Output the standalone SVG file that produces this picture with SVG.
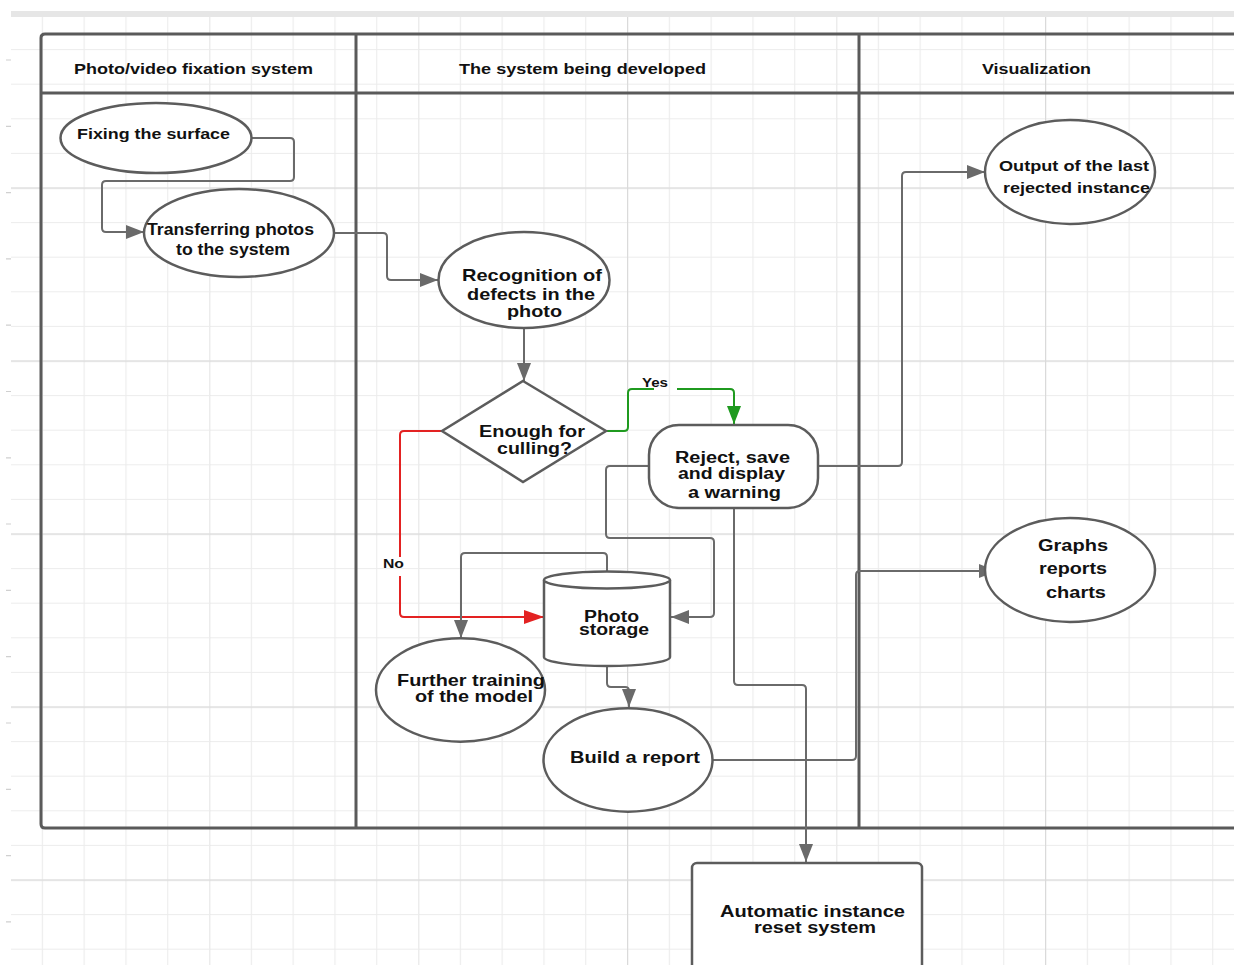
<svg xmlns="http://www.w3.org/2000/svg" width="1234" height="965" viewBox="0 0 1234 965">
<style>
.lane{fill:none;stroke:#5a5a5a;stroke-width:3}
.node{fill:#fff;stroke:#5c5c5c;stroke-width:2.5}
.conn{fill:none;stroke:#6a6a6a;stroke-width:2}
.green{fill:none;stroke:#1f9a1f;stroke-width:2}
.red{fill:none;stroke:#e32222;stroke-width:2}
text{font-family:"Liberation Sans",Arial,sans-serif;font-weight:bold;fill:#111}
.h{font-size:15px}
.t15{font-size:15px}
.t16{font-size:16px}
.t17{font-size:17px}
.lbl{font-size:13px}
</style>
<defs>
<pattern id="minor" patternUnits="userSpaceOnUse" x="0" y="14.5" width="41.8" height="34.6">
<path d="M0.5,0 V34.6 M0,0.5 H41.8" stroke="#ececec" stroke-width="1.2" fill="none"/>
</pattern>
<pattern id="major" patternUnits="userSpaceOnUse" x="0" y="14.5" width="209" height="173">
<path d="M0.5,0 V173 M0,0.5 H209" stroke="#dadada" stroke-width="1.4" fill="none"/>
</pattern>
<marker id="arr" markerUnits="userSpaceOnUse" markerWidth="18" markerHeight="14" refX="18" refY="7" orient="auto">
<path d="M0,0 L18,7 L0,14 z" fill="#6a6a6a"/>
</marker>
<marker id="arrG" markerUnits="userSpaceOnUse" markerWidth="18" markerHeight="14" refX="18" refY="7" orient="auto">
<path d="M0,0 L18,7 L0,14 z" fill="#1f9a1f"/>
</marker>
<marker id="arrR" markerUnits="userSpaceOnUse" markerWidth="20" markerHeight="14" refX="20" refY="7" orient="auto">
<path d="M0,0 L20,7 L0,14 z" fill="#e32222"/>
</marker>
</defs>
<rect x="0" y="0" width="1234" height="965" fill="#fff"/>
<g id="grid">
<rect x="11" y="17" width="1223" height="948" fill="url(#minor)"/>
<rect x="11" y="17" width="1223" height="948" fill="url(#major)"/>
<rect x="11" y="11" width="1223" height="6" fill="#e6e6e6"/>
<path d="M6,60H11M6,126.3H11M6,192.6H11M6,258.9H11M6,325.2H11M6,391.5H11M6,457.8H11M6,524H11M6,590.4H11M6,656.7H11M6,723H11M6,789.3H11M6,855.6H11M6,921.9H11" stroke="#d0d0d0" stroke-width="1.2"/>
</g>
<g id="swimlanes">
<path class="lane" d="M1240,34 H45 Q41,34 41,38 V824 Q41,828 45,828 H1240"/>
<path class="lane" d="M41,93 H1240 M356,34 V828 M859,34 V828"/>
<text class="h" x="74" y="74" textLength="239" lengthAdjust="spacingAndGlyphs">Photo/video fixation system</text>
<text class="h" x="459" y="74" textLength="247" lengthAdjust="spacingAndGlyphs">The system being developed</text>
<text class="h" x="982" y="74" textLength="109" lengthAdjust="spacingAndGlyphs">Visualization</text>
</g>
<g id="connectors">
<path class="conn" d="M251,138 H290 Q294,138 294,142 V177 Q294,181 290,181 H106 Q102,181 102,185 V228 Q102,232 106,232 H144" marker-end="url(#arr)"/>
<path class="conn" d="M334,233 H383 Q387,233 387,237 V276 Q387,280 391,280 H438" marker-end="url(#arr)"/>
<path class="conn" d="M524,328 V381" marker-end="url(#arr)"/>
<path class="green" d="M606,431 H624 Q628,431 628,427 V393 Q628,389 632,389 H654 M677,389 H730 Q734,389 734,393 V424" marker-end="url(#arrG)"/>
<path class="red" d="M442,431 H404 Q400,431 400,435 V557 M400,576 V613 Q400,617 404,617 H544" marker-end="url(#arrR)"/>
<path class="conn" d="M818,466 H898 Q902,466 902,462 V176 Q902,172 906,172 H985" marker-end="url(#arr)"/>
<path class="conn" d="M649,466 H610 Q606,466 606,470 V534 Q606,538 610,538 H710 Q714,538 714,542 V613 Q714,617 710,617 H671" marker-end="url(#arr)"/>
<path class="conn" d="M734,508 V681 Q734,685 738,685 H802 Q806,685 806,689 V862" marker-end="url(#arr)"/>
<path class="conn" d="M607,571 V557 Q607,553 603,553 H465 Q461,553 461,557 V638" marker-end="url(#arr)"/>
<path class="conn" d="M607,666 V683 Q607,687 611,687 H625 Q629,687 629,691 V707" marker-end="url(#arr)"/>
<path class="conn" d="M712,760 H852 Q856,760 856,756 V575 Q856,571 860,571 H997" marker-end="url(#arr)"/>
<text class="lbl" x="642" y="387" textLength="26" lengthAdjust="spacingAndGlyphs">Yes</text>
<text class="lbl" x="383" y="568" textLength="21" lengthAdjust="spacingAndGlyphs">No</text>
</g>
<g id="fixing">
<ellipse class="node" cx="156" cy="138" rx="95.5" ry="35"/>
<text class="t15" x="77" y="139" textLength="153" lengthAdjust="spacingAndGlyphs">Fixing the surface</text>
</g>
<g id="transferring">
<ellipse class="node" cx="239" cy="233" rx="95" ry="44"/>
<text class="t16" x="147" y="235" textLength="167" lengthAdjust="spacingAndGlyphs">Transferring photos</text>
<text class="t16" x="176" y="254.5" textLength="114" lengthAdjust="spacingAndGlyphs">to the system</text>
</g>
<g id="recognition">
<ellipse class="node" cx="524" cy="280" rx="85.5" ry="48"/>
<text class="t17" x="462" y="281" textLength="140" lengthAdjust="spacingAndGlyphs">Recognition of</text>
<text class="t17" x="467" y="299.5" textLength="128" lengthAdjust="spacingAndGlyphs">defects in the</text>
<text class="t17" x="507" y="317" textLength="55" lengthAdjust="spacingAndGlyphs">photo</text>
</g>
<g id="decision">
<polygon class="node" points="523,381 606,431 523,482 442,431"/>
<text class="t17" x="479" y="437" textLength="106" lengthAdjust="spacingAndGlyphs">Enough for</text>
<text class="t17" x="497" y="453.5" textLength="75" lengthAdjust="spacingAndGlyphs">culling?</text>
</g>
<g id="reject">
<rect class="node" x="649" y="425" width="169" height="83" rx="30" ry="30"/>
<text class="t16" x="675" y="462.7" textLength="115" lengthAdjust="spacingAndGlyphs">Reject, save</text>
<text class="t16" x="678" y="478.5" textLength="107" lengthAdjust="spacingAndGlyphs">and display</text>
<text class="t16" x="688" y="497.5" textLength="93" lengthAdjust="spacingAndGlyphs">a warning</text>
</g>
<g id="storage">
<path class="node" d="M544,580 A63,8.5 0 0 1 670,580 V657 A63,9 0 0 1 544,657 Z"/>
<path class="node" fill="none" d="M544,580 A63,8.5 0 0 0 670,580"/>
<text class="t16" x="584" y="621.7" textLength="55" lengthAdjust="spacingAndGlyphs">Photo</text>
<text class="t16" x="579" y="635" textLength="70" lengthAdjust="spacingAndGlyphs">storage</text>
</g>
<g id="training">
<ellipse class="node" cx="460.5" cy="690" rx="84.5" ry="51.7"/>
<text class="t17" x="397" y="685.7" textLength="148" lengthAdjust="spacingAndGlyphs">Further training</text>
<text class="t17" x="415" y="701.7" textLength="118" lengthAdjust="spacingAndGlyphs">of the model</text>
</g>
<g id="report">
<ellipse class="node" cx="628" cy="760" rx="84.5" ry="51.7"/>
<text class="t17" x="570" y="762.7" textLength="130" lengthAdjust="spacingAndGlyphs">Build a report</text>
</g>
<g id="output">
<ellipse class="node" cx="1070" cy="172" rx="85" ry="52"/>
<text class="t15" x="999" y="171" textLength="150" lengthAdjust="spacingAndGlyphs">Output of the last</text>
<text class="t15" x="1003" y="193" textLength="147" lengthAdjust="spacingAndGlyphs">rejected instance</text>
</g>
<g id="graphs">
<ellipse class="node" cx="1070" cy="570" rx="85" ry="52"/>
<text class="t16" x="1038" y="550.5" textLength="70" lengthAdjust="spacingAndGlyphs">Graphs</text>
<text class="t16" x="1039" y="574" textLength="68" lengthAdjust="spacingAndGlyphs">reports</text>
<text class="t16" x="1046" y="598" textLength="60" lengthAdjust="spacingAndGlyphs">charts</text>
</g>
<g id="reset">
<rect class="node" x="692" y="863" width="230" height="130" rx="5" ry="5"/>
<text class="t16" x="720" y="916.5" textLength="185" lengthAdjust="spacingAndGlyphs">Automatic instance</text>
<text class="t16" x="754" y="932.5" textLength="122" lengthAdjust="spacingAndGlyphs">reset system</text>
</g>
</svg>
